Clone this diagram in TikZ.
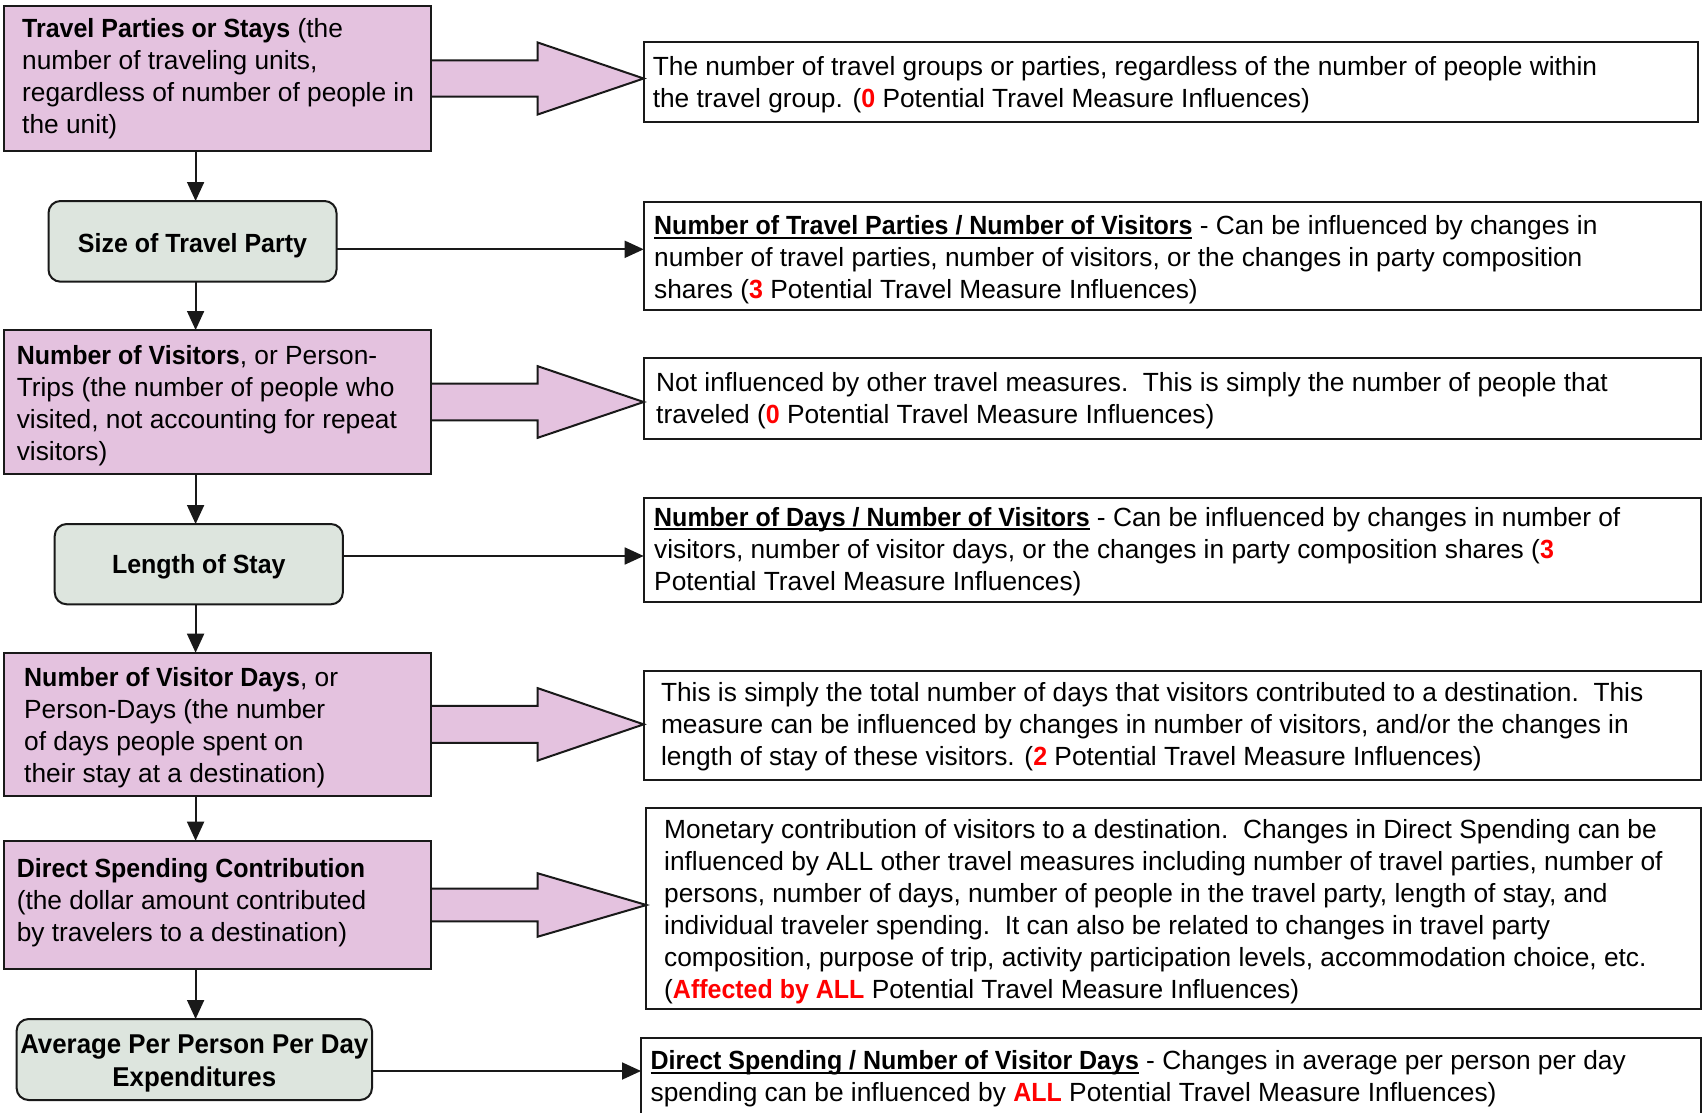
\documentclass[tikz,border=0pt]{standalone}
\usepackage{fontspec}
\setmainfont{Liberation Sans}[BoldFeatures={FakeStretch=0.95}]
\usetikzlibrary{arrows.meta,calc}
\definecolor{pinkc}{RGB}{228,194,223}
\definecolor{greenc}{RGB}{221,229,222}
\definecolor{edgec}{RGB}{25,25,25}
\newcommand\rdb[1]{\textcolor{red}{\textbf{#1}}}
\newcommand\ulb[1]{\setbox0\hbox{\textbf{#1}}\rlap{\rule[-4pt]{\wd0}{2pt}}\box0\relax}
\newcommand\blockarrow[4]{%
  \draw[blockarr] ($(#1.east)+(1,-#3)$) -- ($(#1.east)+(106.7,-#3)$) -- ($(#1.east)+(106.7,-#4)$)
    -- (#2.west |- #1.east) -- ($(#1.east)+(106.7,#4)$) -- ($(#1.east)+(106.7,#3)$) -- ($(#1.east)+(1,#3)$);}
\begin{document}
\begin{tikzpicture}[x=1pt,y=-1pt,
  frame/.style={draw=edgec,line width=2pt,anchor=north west,inner sep=0pt,outer sep=0pt},
  pinkbox/.style={frame,fill=pinkc},
  greenbox/.style={frame,fill=greenc,rounded corners=12pt},
  infobox/.style={frame,fill=white},
  txt/.style={font=\fontsize{26.3}{32}\selectfont,align=left,inner sep=0pt,anchor=west,yshift=-3pt},
  ctxt/.style={font=\fontsize{26.3}{32.5}\selectfont\bfseries,align=center,inner sep=0pt},
  arr/.style={draw=edgec,line width=1.8pt,-{Triangle[length=19pt,width=17pt]}},
  blockarr/.style={draw=edgec,line width=2pt,fill=pinkc,line join=miter}]
\useasboundingbox (0,0) rectangle (1702,1113);
\clip (0,0) rectangle (1702,1113);
\fill[white] (0,0) rectangle (1702,1113);

% left column
\node[pinkbox,minimum width=427pt,minimum height=144pt] (p1) at (4,6.5) {};
\node[greenbox,minimum width=288pt,minimum height=80.7pt] (g2) at (48.5,201) {};
\node[pinkbox,minimum width=427pt,minimum height=144pt] (p3) at (4,330) {};
\node[greenbox,minimum width=288.2pt,minimum height=80.3pt] (g4) at (54.7,524) {};
\node[pinkbox,minimum width=427pt,minimum height=143.3pt] (p5) at (4,652.7) {};
\node[pinkbox,minimum width=427pt,minimum height=128.6pt] (p6) at (4,840.7) {};
\node[greenbox,minimum width=355.4pt,minimum height=81pt] (g7) at (16.6,1019) {};

% right column
\node[infobox,minimum width=1054.2pt,minimum height=80pt] (r1) at (643.7,41.7) {};
\node[infobox,minimum width=1057pt,minimum height=108.3pt] (r2) at (643.7,201.7) {};
\node[infobox,minimum width=1057pt,minimum height=80.4pt] (r3) at (643.7,358.3) {};
\node[infobox,minimum width=1057pt,minimum height=104pt] (r4) at (643.7,498.3) {};
\node[infobox,minimum width=1057pt,minimum height=109pt] (r5) at (643.7,671) {};
\node[infobox,minimum width=1054.2pt,minimum height=200.7pt] (r6) at (646.4,808.3) {};
\node[infobox,minimum width=1059.6pt,minimum height=100pt] (r7) at (641,1038.3) {};

% texts of green boxes
\node[ctxt] (g2t) at ($(g2.center)+(0,4.5)$) {Size of Travel Party};
\node[ctxt] (g4t) at ($(g4.center)+(0,3)$) {Length of Stay};
\node[ctxt,font=\fontsize{27.2}{32.5}\selectfont\bfseries] (g7t) at ($(g7.center)+(0,4)$) {Average Per Person Per Day\\Expenditures};

% texts of left boxes
\node[txt] (p1t) at (22,76) {\textbf{Travel Parties or Stays} (the\\number of traveling units,\\regardless of number of people in\\the unit)};
\node[txt] (p3t) at (16.6,402.5) {\textbf{Number of Visitors}, or Person-\\Trips (the number of people who\\visited, not accounting for repeat\\visitors)};
\node[txt] (p5t) at (24,725) {\textbf{Number of Visitor Days}, or\\Person-Days (the number\\of days people spent on\\their stay at a destination)};
\node[txt] (p6t) at (16.6,900) {\textbf{Direct Spending Contribution}\\(the dollar amount contributed\\by travelers to a destination)};

% texts of right boxes
\node[txt] (r1t) at (652.6,81.7) {The number of travel groups or parties, regardless of the number of people within\\the travel group. (\rdb{0} Potential Travel Measure Influences)};
\node[txt] (r2t) at (654,256.8) {\ulb{Number of Travel Parties / Number of Visitors} - Can be influenced by changes in\\number of travel parties, number of visitors, or the changes in party composition\\shares (\rdb{3} Potential Travel Measure Influences)};
\node[txt] (r3t) at (656,397.5) {Not influenced by other travel measures.\ \ This is simply the number of people that\\traveled (\rdb{0} Potential Travel Measure Influences)};
\node[txt] (r4t) at (654,548.6) {\ulb{Number of Days / Number of Visitors} - Can be influenced by changes in number of\\visitors, number of visitor days, or the changes in party composition shares (\rdb{3}\\Potential Travel Measure Influences)};
\node[txt] (r5t) at (660.8,724) {This is simply the total number of days that visitors contributed to a destination.\ \ This\\measure can be influenced by changes in number of visitors, and/or the changes in\\length of stay of these visitors. (\rdb{2} Potential Travel Measure Influences)};
\node[txt] (r6t) at (664,908.8) {Monetary contribution of visitors to a destination.\ \ Changes in Direct Spending can be\\influenced by ALL other travel measures including number of travel parties, number of\\persons, number of days, number of people in the travel party, length of stay, and\\individual traveler spending.\ \ It can also be related to changes in travel party\\composition, purpose of trip, activity participation levels, accommodation choice, etc.\\(\rdb{Affected by ALL} Potential Travel Measure Influences)};
\node[txt] (r7t) at (650.5,1076) {\ulb{Direct Spending / Number of Visitor Days} - Changes in average per person per day\\spending can be influenced by \rdb{ALL} Potential Travel Measure Influences)};

% block arrows
\blockarrow{p1}{r1}{18.2}{36}
\blockarrow{p3}{r3}{18.3}{35.8}
\blockarrow{p5}{r5}{18.6}{36.2}
\blockarrow{p6}{r6}{16.3}{31.7}

% vertical arrows
\coordinate (ax) at (195.6,0);
\draw[arr] (p1.south -| ax) -- (g2.north -| ax);
\draw[arr] (g2.south -| ax) -- (p3.north -| ax);
\draw[arr] (p3.south -| ax) -- (g4.north -| ax);
\draw[arr] (g4.south -| ax) -- (p5.north -| ax);
\draw[arr] (p5.south -| ax) -- (p6.north -| ax);
\draw[arr] (p6.south -| ax) -- (g7.north -| ax);

% horizontal arrows
\coordinate (h2) at (0,249.3);
\coordinate (h4) at (0,556);
\coordinate (h7) at (0,1071);
\draw[arr] (g2.east |- h2) -- (r2.west |- h2);
\draw[arr] (g4.east |- h4) -- (r4.west |- h4);
\draw[arr] (g7.east |- h7) -- (r7.west |- h7);
\end{tikzpicture}
\end{document}
